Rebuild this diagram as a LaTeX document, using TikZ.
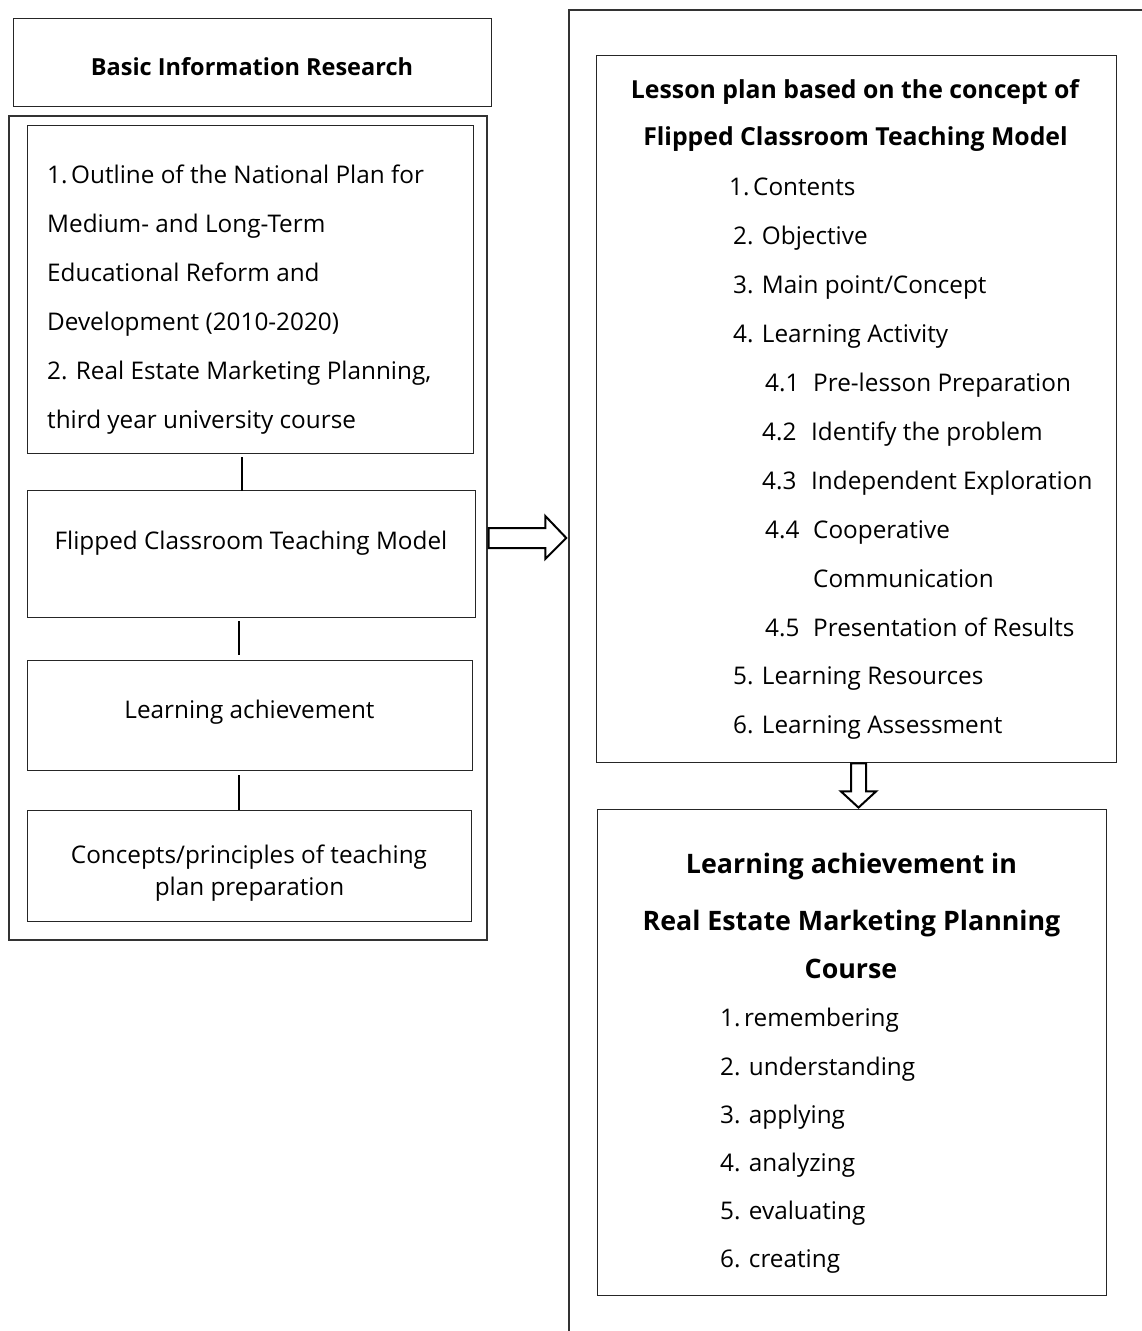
\documentclass[tikz,border=0pt]{standalone}
\usepackage{fontspec}
\setmainfont{Open Sans}
\usetikzlibrary{calc}
\newcommand\myfs{\fontsize{24.3}{28}\selectfont}
\newcommand\myfb{\fontsize{23.5}{28}\selectfont}
\newcommand\myfa{\fontsize{24.8}{28}\selectfont}
\newcommand\myft{\fontsize{26.8}{30}\selectfont}
\begin{document}
\begin{tikzpicture}[x=1pt,y=-1pt,
  box/.style={draw=black!85, line width=0.9pt, inner sep=0pt},
  obox/.style={draw=black!80, line width=1.4pt, inner sep=0pt},
  conn/.style={line width=2pt},
  barrow/.style={draw=black, line width=2pt, fill=white, line join=miter},
  txt/.style={inner sep=0pt, anchor=base west, font=\myfs},
  ctxt/.style={inner sep=0pt, anchor=base, font=\myfs},
  btxt/.style={inner sep=0pt, anchor=base, font=\myfb\bfseries},
  atxt/.style={inner sep=0pt, anchor=base, font=\myfa\bfseries},
  ttxt/.style={inner sep=0pt, anchor=base, font=\myft\bfseries}]
\path[use as bounding box, clip] (0,0) rectangle (1142,1331);

% outer boxes
\node[obox, minimum width=581pt, minimum height=1335pt] (ro) at (859.5,677.5) {};
\node[box, minimum width=478pt, minimum height=88pt] (bir) at (252,62) {};
\node[obox, minimum width=478pt, minimum height=824pt] (lo) at (248,528) {};

% inner left boxes
\node[box, minimum width=446pt, minimum height=328pt] (b1) at (250,289) {};
\node[box, minimum width=448pt, minimum height=127pt] (b2) at (251,553.5) {};
\node[box, minimum width=445pt, minimum height=110pt] (b3) at (249.5,715) {};
\node[box, minimum width=444pt, minimum height=111pt] (b4) at (249,865.5) {};

% right boxes
\node[box, minimum width=520pt, minimum height=707pt] (ra) at (856,408.5) {};
\node[box, minimum width=509pt, minimum height=486pt] (rb) at (851.5,1052) {};

% connectors
\draw[conn] ([xshift=-8pt,yshift=-4pt]b1.south) -- ([xshift=-9pt,yshift=-1pt]b2.north);
\draw[conn] ([xshift=-12pt,yshift=-4pt]b2.south) -- ([xshift=-10.5pt,yshift=5pt]b3.north);
\draw[conn] ([xshift=-10.5pt,yshift=-5pt]b3.south) -- ([xshift=-10pt]b4.north);

% block arrow right
\coordinate (ac) at ($(lo.east)+(1,10)$);
\coordinate (tipr) at ($(ro.west |- ac)+(-2,0)$);
\draw[barrow] ($(ac)+(0,-10)$) -- ($(tipr)+(-21,-10)$) -- ($(tipr)+(-21,-22)$) -- (tipr)
  -- ($(tipr)+(-21,21)$) -- ($(tipr)+(-21,10)$) -- ($(ac)+(0,10)$) -- cycle;

% block arrow down
\coordinate (dc) at ($(ra.south)+(2.5,1)$);
\coordinate (tipd) at ($(rb.north)+(7,-1)$);
\draw[barrow] ($(dc)+(-7.5,0)$) -- ($(dc)+(-7.5,28)$) -- ($(dc)+(-17.5,28)$) -- (tipd)
  -- ($(dc)+(17.5,28)$) -- ($(dc)+(7.5,28)$) -- ($(dc)+(7.5,0)$) -- cycle;

% left texts
\node[btxt] (tbir) at (252,75) {Basic Information Research};
\node[txt] (t11) at (47,183) {1.\hspace{0.15em}Outline of the National Plan for};
\node[txt] (t12) at (47,232) {Medium- and Long-Term};
\node[txt] (t13) at (47,281) {Educational Reform and};
\node[txt] (t14) at (47,330) {Development (2010-2020)};
\node[txt] (t15) at (47,379) {2. Real Estate Marketing Planning,};
\node[txt] (t16) at (47,428) {third year university course};
\node[ctxt] (t2) at (251,549) {Flipped Classroom Teaching Model};
\node[ctxt] (t3) at (249.5,718) {Learning achievement};
\node[ctxt] (t41) at (249,863) {Concepts/principles of teaching};
\node[ctxt] (t42) at (249.5,895) {plan preparation};

% right box A
\node[atxt] (ta1) at (855,98) {Lesson plan based on the concept of};
\node[atxt] (ta2) at (855.5,145) {Flipped Classroom Teaching Model};
\node[txt] (ia1) at (729,195) {1.\hspace{0.15em}Contents};
\node[txt] (ia2) at (733,244) {2. Objective};
\node[txt] (ia3) at (733,293) {3. Main point/Concept};
\node[txt] (ia4) at (733,342) {4. Learning Activity};
\node[txt] (ia41) at (765,391) {\makebox[48pt][l]{4.1}Pre-lesson Preparation};
\node[txt] (ia42) at (762,440) {\makebox[49pt][l]{4.2}Identify the problem};
\node[txt] (ia43) at (762,489) {\makebox[49pt][l]{4.3}Independent Exploration};
\node[txt] (ia44) at (765,538) {\makebox[48pt][l]{4.4}Cooperative};
\node[txt] (ia44b) at (813,587) {Communication};
\node[txt] (ia45) at (765,636) {\makebox[48pt][l]{4.5}Presentation of Results};
\node[txt] (ia5) at (733,684) {5. Learning Resources};
\node[txt] (ia6) at (733,733) {6. Learning Assessment};

% right box B
\node[ttxt] (tb1) at (851.5,873) {Learning achievement in};
\node[ttxt] (tb2) at (851.5,930) {Real Estate Marketing Planning};
\node[ttxt] (tb3) at (851,978) {Course};
\node[txt] (ib1) at (720,1026) {1.\hspace{0.15em}remembering};
\node[txt] (ib2) at (720,1075) {2. understanding};
\node[txt] (ib3) at (720,1123) {3. applying};
\node[txt] (ib4) at (720,1171) {4. analyzing};
\node[txt] (ib5) at (720,1219) {5. evaluating};
\node[txt] (ib6) at (720,1267) {6. creating};
\end{tikzpicture}
\end{document}
